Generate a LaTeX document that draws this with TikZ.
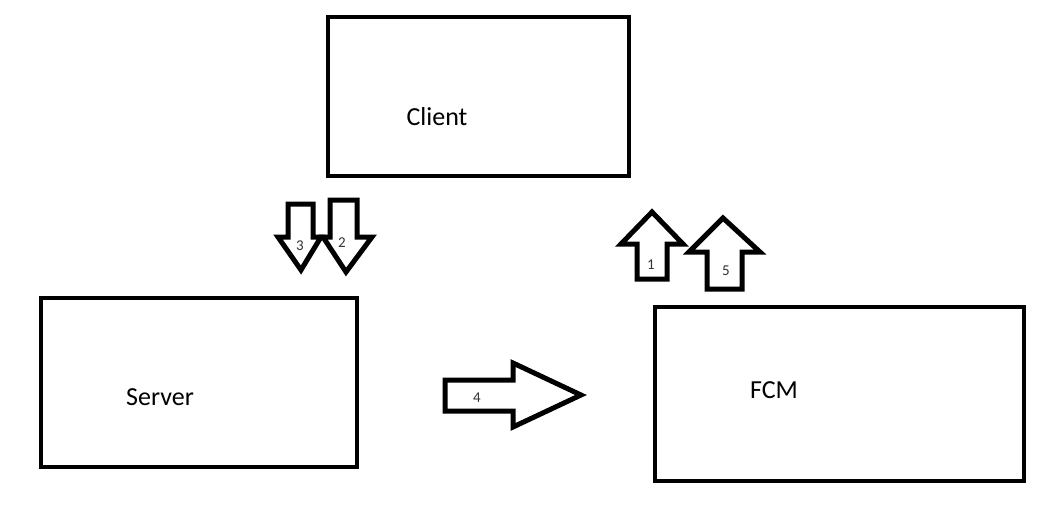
\documentclass[tikz,border=0pt]{standalone}
\usepackage{fontspec}
\setmainfont{Carlito}
\begin{document}
\begin{tikzpicture}[x=1pt,y=-1pt,
  box/.style={draw,line width=4pt,inner sep=0pt},
  blk/.style={draw,line width=5pt,line join=miter,fill=white},
  big/.style={font=\fontsize{26}{30}\selectfont,inner sep=0pt},
  num/.style={font=\fontsize{15}{17}\selectfont,inner sep=0pt,text=black!80}]
\useasboundingbox (0,0) rectangle (1047,509);
% boxes
\node[box,minimum width=301pt,minimum height=159pt] (client) at (478.5,96.5) {};
\node[box,minimum width=316pt,minimum height=169pt] (server) at (199,382.5) {};
\node[box,minimum width=369pt,minimum height=174pt] (fcm) at (839.5,394) {};
\node[big] (tclient) at (437,117) {Client};
\node[big] (tserver) at (160,397) {Server};
\node[big] (tfcm) at (774,390) {FCM};
% down arrows
\draw[blk] (288,204) -- (313,204) -- (313,237) -- (321,237) -- (301,270) -- (278,237) -- (288,237) -- cycle;
\draw[blk] (330,200) -- (357,200) -- (357,237) -- (372,237) -- (346,272) -- (323,237) -- (330,237) -- cycle;
% up arrows
\draw[blk] (637,279) -- (667,279) -- (667,244) -- (683,244) -- (652,212) -- (621,244) -- (637,244) -- cycle;
\draw[blk] (707,289) -- (742,289) -- (742,252) -- (760,252) -- (723,218) -- (689,252) -- (707,252) -- cycle;
% right arrow
\draw[blk] (445,380) -- (513,380) -- (513,363) -- (581,395) -- (513,427) -- (513,411) -- (445,411) -- cycle;
% labels
\node[num] (n3) at (300,246) {3};
\node[num] (n2) at (342,243) {2};
\node[num] (n1) at (651,265) {1};
\node[num] (n5) at (726,271) {5};
\node[num] (n4) at (477,398) {4};
\end{tikzpicture}
\end{document}
